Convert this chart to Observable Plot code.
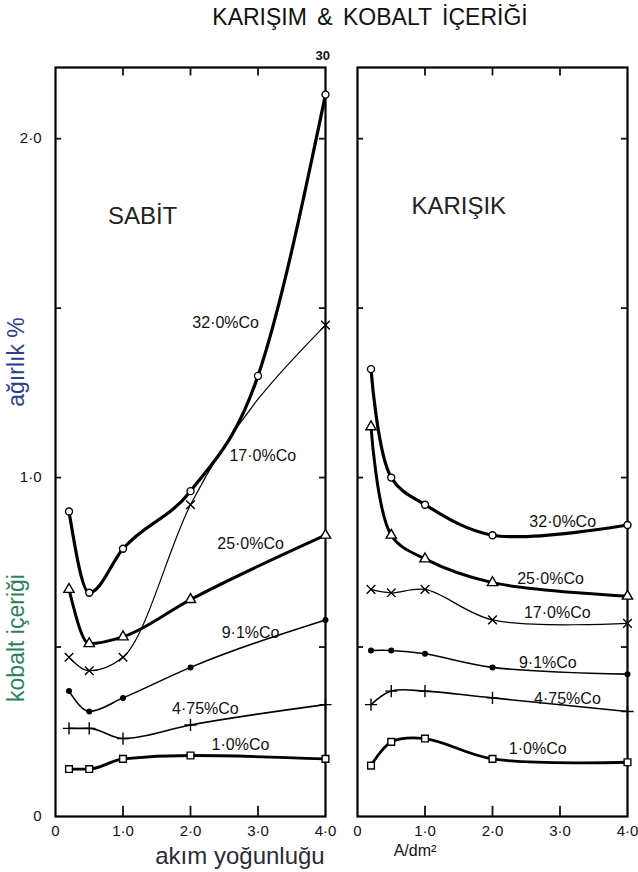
<!DOCTYPE html>
<html>
<head>
<meta charset="utf-8">
<script src="https://cdn.jsdelivr.net/npm/d3@7"></script>
<script src="https://cdn.jsdelivr.net/npm/@observablehq/plot@0.6"></script>
<style>
  html, body { margin: 0; padding: 0; background: #fff; }
  #title { height: 40px; line-height: 36px; padding-top: 4px; font: 23px "Liberation Sans", Arial, sans-serif; color: #111;
           text-align: center; padding-left: 102px; box-sizing: border-box; width: 638px; word-spacing: 4px; }
  #chart svg { display: block; }
</style>
</head>
<body>
<div id="title">KARIŞIM &amp; KOBALT İÇERİĞİ</div>
<div id="chart"></div>
<script>
// ---- data ----
const panels = ["SABİT", "KARIŞIK"];
const seriesNames = ["32·0%Co", "25·0%Co", "17·0%Co", "9·1%Co", "4·75%Co", "1·0%Co"];
const xTicks = [0, 1, 2, 3, 4];
const yTicks = [0, 1, 2];

// current density, A/dm2
const xSabit = [0.2, 0.5, 1.0, 2.0, 4.0];
const xSabit32 = [0.2, 0.5, 1.0, 2.0, 3.0, 4.0];
const xKarisik = [0.2, 0.5, 1.0, 2.0, 4.0];

// cobalt content, wt %  — SABİT
const sabit32 = [0.90, 0.66, 0.79, 0.96, 1.30, 2.13];
const sabit25 = [0.67, 0.51, 0.53, 0.64, 0.83];
const sabit17 = [0.47, 0.43, 0.47, 0.92, 1.45];
const sabit91 = [0.37, 0.31, 0.35, 0.44, 0.58];
const sabit475 = [0.26, 0.26, 0.23, 0.27, 0.33];
const sabit10 = [0.14, 0.14, 0.17, 0.18, 0.17];

// cobalt content, wt %  — KARIŞIK
const karisik32 = [1.32, 1.00, 0.92, 0.83, 0.86];
const karisik25 = [1.15, 0.83, 0.76, 0.69, 0.65];
const karisik17 = [0.67, 0.66, 0.67, 0.58, 0.57];
const karisik91 = [0.49, 0.49, 0.48, 0.44, 0.42];
const karisik475 = [0.33, 0.37, 0.37, 0.35, 0.31];
const karisik10 = [0.15, 0.22, 0.23, 0.17, 0.16];

// ---- build table ----
const rows = [];
function add(panel, series, xs, ys) {
  xs.forEach((x, i) => rows.push({panel, series, x, y: ys[i]}));
}
add(panels[0], seriesNames[0], xSabit32, sabit32);
add(panels[0], seriesNames[1], xSabit, sabit25);
add(panels[0], seriesNames[2], xSabit, sabit17);
add(panels[0], seriesNames[3], xSabit, sabit91);
add(panels[0], seriesNames[4], xSabit, sabit475);
add(panels[0], seriesNames[5], xSabit, sabit10);
add(panels[1], seriesNames[0], xKarisik, karisik32);
add(panels[1], seriesNames[1], xKarisik, karisik25);
add(panels[1], seriesNames[2], xKarisik, karisik17);
add(panels[1], seriesNames[3], xKarisik, karisik91);
add(panels[1], seriesNames[4], xKarisik, karisik475);
add(panels[1], seriesNames[5], xKarisik, karisik10);

// ---- styling ----
const style = {
  "32·0%Co": {w: 3.2, symbol: "circle", fill: "white", r: 3.5},
  "25·0%Co": {w: 3.0, symbol: "triangle", fill: "white", r: 3.8},
  "17·0%Co": {w: 1.2, symbol: "times", fill: "white", r: 4},
  "9·1%Co": {w: 1.6, symbol: "circle", fill: "black", r: 2.3},
  "4·75%Co": {w: 1.6, symbol: "plus", fill: "white", r: 4},
  "1·0%Co": {w: 2.8, symbol: "square", fill: "white", r: 3.8}
};
const panelCurve = {"SABİT": "monotone-x", "KARIŞIK": "catmull-rom"};

// label placement (data units)
const labels = [
  {panel: "SABİT", text: "32·0%Co", x: 2.52, y: 1.457},
  {panel: "SABİT", text: "17·0%Co", x: 3.07, y: 1.065},
  {panel: "SABİT", text: "25·0%Co", x: 2.89, y: 0.805},
  {panel: "SABİT", text: "9·1%Co", x: 2.89, y: 0.543},
  {panel: "SABİT", text: "4·75%Co", x: 2.22, y: 0.319},
  {panel: "SABİT", text: "1·0%Co", x: 2.74, y: 0.212},
  {panel: "KARIŞIK", text: "32·0%Co", x: 3.04, y: 0.87},
  {panel: "KARIŞIK", text: "25·0%Co", x: 2.86, y: 0.70},
  {panel: "KARIŞIK", text: "17·0%Co", x: 2.96, y: 0.60},
  {panel: "KARIŞIK", text: "9·1%Co", x: 2.82, y: 0.454},
  {panel: "KARIŞIK", text: "4·75%Co", x: 3.11, y: 0.348},
  {panel: "KARIŞIK", text: "1·0%Co", x: 2.67, y: 0.20}
];
const panelTitles = [
  {panel: "SABİT", x: 1.29, y: 1.77},
  {panel: "KARIŞIK", x: 1.5, y: 1.80}
];

const fmt = d => d === 0 ? "0" : d.toFixed(1).replace(".", "·");
const font = "Liberation Sans, Arial, sans-serif";

const marks = [
  Plot.frame({strokeWidth: 2.2, stroke: "black"}),
  Plot.ruleX([1, 2, 3], {y1: 2.21, y2: 2.185, strokeWidth: 1.8}),
  Plot.ruleX([1, 2, 3], {y1: 0, y2: 0.03, strokeWidth: 1.8}),
  Plot.ruleY([0.5, 1, 1.5, 2], {x1: 0, x2: 0.09, strokeWidth: 1.8}),
  Plot.ruleY([0.5, 1, 1.5, 2], {x1: 3.91, x2: 4, strokeWidth: 1.8}),
  Plot.axisX({ticks: xTicks, tickFormat: fmt, tickSize: 0, tickPadding: 9, fontSize: 15, label: null}),
  Plot.axisY({ticks: yTicks, tickFormat: fmt, tickSize: 0, tickPadding: 14, fontSize: 15, label: null})
];
for (const p of panels) {
  for (const s of seriesNames) {
    const st = style[s];
    const data = rows.filter(d => d.series === s && d.panel === p);
    marks.push(Plot.line(data, {fx: "panel", x: "x", y: "y", curve: panelCurve[p], stroke: "black", strokeWidth: st.w}));
  }
}
for (const s of seriesNames) {
  const st = style[s];
  const data = rows.filter(d => d.series === s);
  marks.push(Plot.dot(data, {fx: "panel", x: "x", y: "y", symbol: st.symbol, r: st.r, fill: st.fill, stroke: "black", strokeWidth: 1.4}));
}
marks.push(Plot.text(labels, {fx: "panel", x: "x", y: "y", text: "text", fontSize: 16, fill: "#111", fontFamily: font, letterSpacing: "0.8px"}));
marks.push(Plot.text(panelTitles, {fx: "panel", x: "x", y: "y", text: "panel", fontSize: 24, fill: "#222", fontFamily: font}));
marks.push(Plot.text([{panel: "SABİT"}], {fx: "panel", x: 3.96, y: 2.245, text: () => "30", fontSize: 13, fontWeight: "bold", fill: "#111"}));

const chart = Plot.plot({
  width: 638,
  height: 832,
  marginTop: 27,
  marginBottom: 56,
  marginLeft: 55,
  marginRight: 11,
  style: {fontFamily: font, fontSize: "15px", color: "#111", background: "white"},
  fx: {domain: panels, axis: null, paddingInner: 0.106, paddingOuter: 0},
  x: {domain: [0, 4]},
  y: {domain: [0, 2.21]},
  marks
});
document.getElementById("chart").appendChild(chart);

const svg = d3.select(chart);
svg.append("text").attr("x", 240).attr("y", 818).attr("text-anchor", "middle").attr("dominant-baseline", "middle")
  .attr("font-size", 24).attr("font-family", font).attr("fill", "#2a2a38").text("akım yoğunluğu");
svg.append("text").attr("x", 415).attr("y", 812).attr("text-anchor", "middle").attr("dominant-baseline", "middle")
  .attr("font-size", 16).attr("font-family", font).attr("fill", "#111").text("A/dm²");
svg.append("text").attr("transform", "translate(18,322) rotate(-90)").attr("text-anchor", "middle").attr("dominant-baseline", "middle")
  .attr("font-size", 23).attr("font-family", font).attr("fill", "#2c3f8c").text("ağırlık %");
svg.append("text").attr("transform", "translate(18,598) rotate(-90)").attr("text-anchor", "middle").attr("dominant-baseline", "middle")
  .attr("font-size", 23).attr("font-family", font).attr("fill", "#2f7f5f").text("kobalt içeriği");
</script>
</body>
</html>
